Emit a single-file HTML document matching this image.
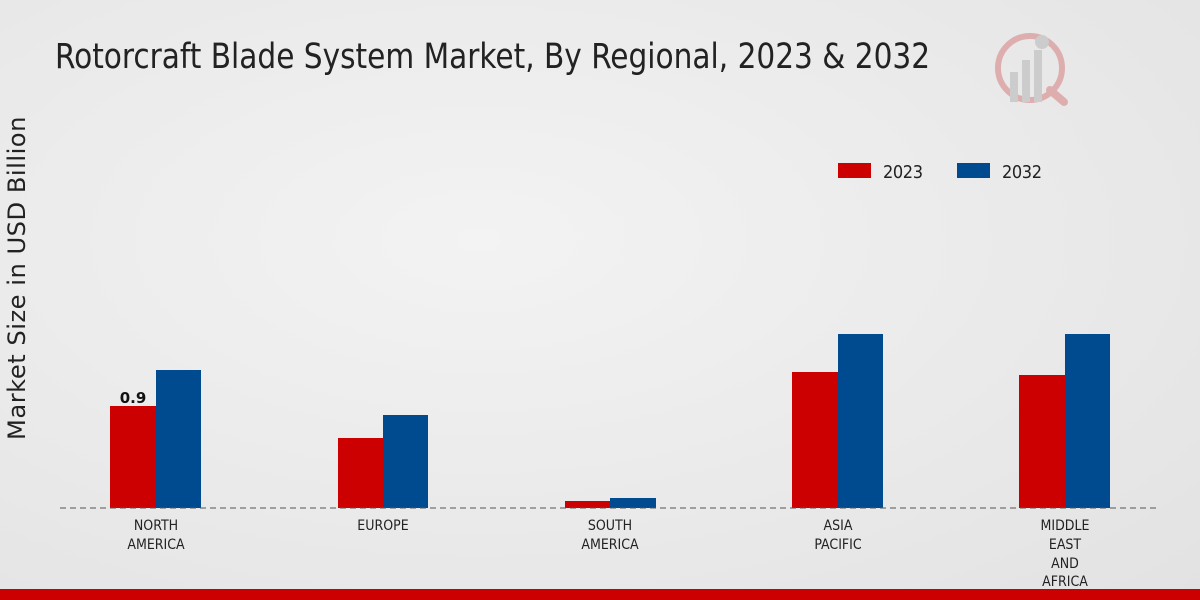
<!DOCTYPE html>
<html><head><meta charset="utf-8"><style>
html,body{margin:0;padding:0}
body{width:1200px;height:600px;overflow:hidden;position:relative;background:radial-gradient(ellipse at 40% 40%,#f3f3f3 0%,#e9e9e9 60%,#e2e2e2 100%);font-family:"Liberation Sans Narrow","DejaVu Sans Condensed","Liberation Sans",sans-serif}
.t{position:absolute;white-space:nowrap}
</style></head><body>
<div class="t" style="left:55px;top:37px;font-size:35px;color:#222;transform:scaleX(0.94);transform-origin:0 0">Rotorcraft Blade System Market, By Regional, 2023 &amp; 2032</div>
<div class="t" style="left:-148px;top:264px;width:330px;text-align:center;font-size:24.2px;color:#222;transform:rotate(-90deg);font-family:'DejaVu Sans',sans-serif;letter-spacing:0.5px">Market Size in USD Billion</div>
<svg width="1200" height="600" style="position:absolute;left:0;top:0">
<g opacity="0.35">
<circle cx="1030" cy="68" r="32" fill="none" stroke="#c44" stroke-width="6"/>
<rect x="1010" y="72" width="8" height="30" fill="#999"/>
<rect x="1022" y="60" width="8" height="42" fill="#999"/>
<rect x="1034" y="50" width="8" height="52" fill="#999"/>
<circle cx="1042" cy="42" r="7" fill="#999"/>
<line x1="1050" y1="90" x2="1064" y2="102" stroke="#c44" stroke-width="8" stroke-linecap="round"/>
</g>
<rect x="838" y="163" width="33" height="15" fill="#cc0000"/>
<text x="883" y="178" font-size="18" fill="#222" font-family="Liberation Sans Narrow,DejaVu Sans Condensed,sans-serif" textLength="40">2023</text>
<rect x="957" y="163" width="33" height="15" fill="#004a8f"/>
<text x="1002" y="178" font-size="18" fill="#222" font-family="Liberation Sans Narrow,DejaVu Sans Condensed,sans-serif" textLength="40">2032</text>
<g fill="#cc0000">
<rect x="110" y="406" width="46" height="102"/>
<rect x="338" y="438" width="45" height="70"/>
<rect x="565" y="501" width="45" height="7"/>
<rect x="792" y="372" width="46" height="136"/>
<rect x="1019" y="375" width="46" height="133"/>
</g>
<g fill="#004a8f">
<rect x="156" y="370" width="45" height="138"/>
<rect x="383" y="415" width="45" height="93"/>
<rect x="610" y="498" width="46" height="10"/>
<rect x="838" y="334" width="45" height="174"/>
<rect x="1065" y="334" width="45" height="174"/>
</g>
<line x1="60" y1="508" x2="1160" y2="508" stroke="#555" stroke-width="1" stroke-dasharray="6,4"/>
<text x="133" y="403" font-size="15" font-weight="bold" fill="#111" text-anchor="middle" font-family="DejaVu Sans,sans-serif">0.9</text>
<g font-size="14" fill="#222" text-anchor="middle" font-family="Liberation Sans Narrow,DejaVu Sans Condensed,sans-serif">
<text x="156" y="530">NORTH</text><text x="156" y="549">AMERICA</text>
<text x="383" y="530">EUROPE</text>
<text x="610" y="530">SOUTH</text><text x="610" y="549">AMERICA</text>
<text x="838" y="530">ASIA</text><text x="838" y="549">PACIFIC</text>
<text x="1065" y="530">MIDDLE</text><text x="1065" y="549">EAST</text><text x="1065" y="568">AND</text><text x="1065" y="586">AFRICA</text>
</g>
<rect x="0" y="589" width="1200" height="11" fill="#cc0000"/>
</svg>
</body></html>
